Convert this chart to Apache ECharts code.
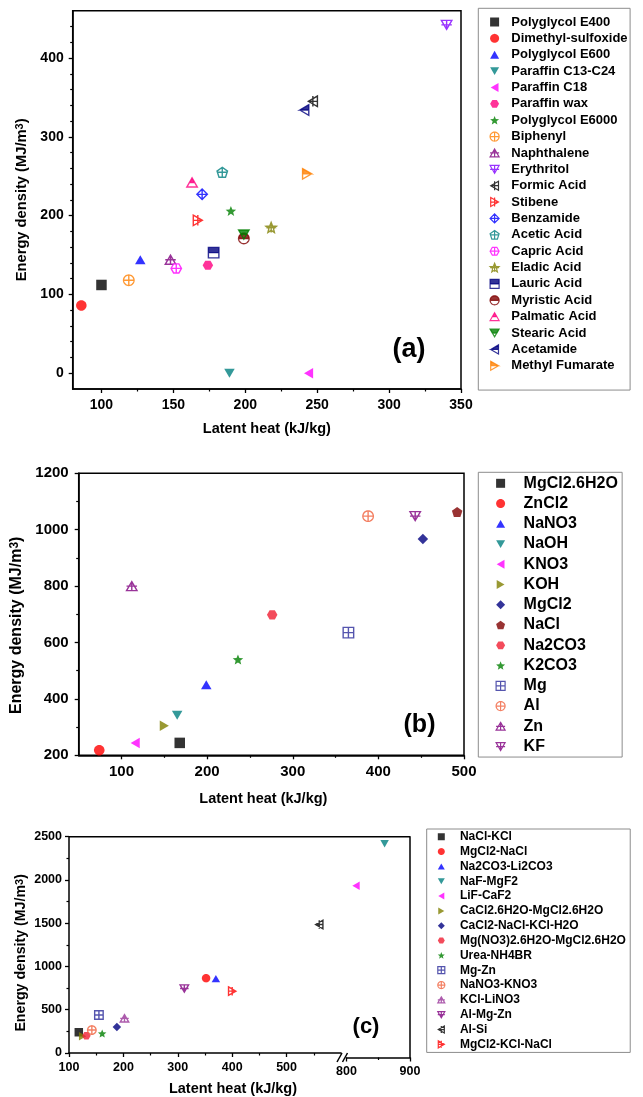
<!DOCTYPE html>
<html lang="en">
<head>
<meta charset="UTF-8">
<title>Energy density vs latent heat</title>
<script src="https://cdn.jsdelivr.net/npm/echarts@6/dist/echarts.min.js"></script>
<style>
    html, body { margin: 0; padding: 0; background-color: #FFFFFF; }
    #main { width: 643px; height: 1097px; }
</style>
</head>
<body>
<div id="main"></div>
<script>
// ---------- data: panel (a) ----------
var namesA = ['Polyglycol E400', 'Dimethyl-sulfoxide', 'Polyglycol E600', 'Paraffin C13-C24', 'Paraffin C18',
    'Paraffin wax', 'Polyglycol E6000', 'Biphenyl', 'Naphthalene', 'Erythritol', 'Formic Acid', 'Stibene',
    'Benzamide', 'Acetic Acid', 'Capric Acid', 'Eladic Acid', 'Lauric Acid', 'Myristic Acid', 'Palmatic Acid',
    'Stearic Acid', 'Acetamide', 'Methyl Fumarate'];
var heatA = [100, 86, 127, 189, 244, 174, 190, 119, 148, 340, 247, 167, 170, 184, 152, 218, 178, 199, 163, 199, 241, 243];
var densA = [112, 86, 144, 0, 0, 137, 206, 118, 144, 442, 345, 194, 227, 255, 133, 185, 153, 171, 242, 176, 334, 253];

// ---------- data: panel (b) ----------
var namesB = ['MgCl2.6H2O', 'ZnCl2', 'NaNO3', 'NaOH', 'KNO3', 'KOH', 'MgCl2', 'NaCl', 'Na2CO3', 'K2CO3',
    'Mg', 'Al', 'Zn', 'KF'];
var heatB = [168, 74, 199, 165, 116, 150, 452, 492, 276, 236, 365, 388, 112, 443];
var densB = [244, 218, 450, 342, 244, 305, 967, 1063, 698, 540, 635, 1048, 800, 1048];

// ---------- data: panel (c) ----------
var namesC = ['NaCl-KCl', 'MgCl2-NaCl', 'Na2CO3-Li2CO3', 'NaF-MgF2', 'LiF-CaF2', 'CaCl2.6H2O-MgCl2.6H2O',
    'CaCl2-NaCl-KCl-H2O', 'Mg(NO3)2.6H2O-MgCl2.6H2O', 'Urea-NH4BR', 'Mg-Zn', 'NaNO3-KNO3', 'KCl-LiNO3',
    'Al-Mg-Zn', 'Al-Si', 'MgCl2-KCl-NaCl'];
var heatC = [118, 352, 370, 860, 815, 125, 188, 132, 161, 155, 142, 202, 312, 560, 400];
var densC = [240, 865, 860, 2420, 1945, 195, 300, 200, 225, 440, 265, 400, 745, 1485, 715];

// ---------- ticks ----------
var xTicksA = [100, 150, 200, 250, 300, 350];
var xMinorA = [125, 175, 225, 275, 325];
var yTicksA = [0, 100, 200, 300, 400];
var yMinorA = [20, 40, 60, 80, 120, 140, 160, 180, 220, 240, 260, 280, 320, 340, 360, 380, 420, 440];
var xTicksB = [100, 200, 300, 400, 500];
var xMinorB = [150, 250, 350, 450];
var yTicksB = [200, 400, 600, 800, 1000, 1200];
var yMinorB = [300, 500, 700, 900, 1100];
var xTicksC1 = [100, 200, 300, 400, 500];
var xMinorC1 = [150, 250, 350, 450, 550];
var xTicksC2 = [800, 900];
var xMinorC2 = [850];
var yTicksC = [0, 500, 1000, 1500, 2000, 2500];
var yMinorC = [250, 750, 1250, 1750, 2250];

// ---------- marker styles ----------
var colorsA = ['#000000', '#ff0000', '#0000ff', '#008080', '#ff00ff', '#ff0080', '#008000', '#ff8000',
    '#800080', '#8000ff', '#000000', '#ff0000', '#0000ff', '#008080', '#ff00ff', '#808000', '#000080',
    '#800000', '#ff0080', '#008000', '#000080', '#ff8000'];
var markersA = ['square:fill', 'circle:fill', 'up:fill', 'down:fill', 'left:fill', 'hexagon:fill', 'star:fill',
    'circle:plus', 'up:plus', 'down:plus', 'left:plus', 'right:plus', 'diamond:plus', 'pentagon:plus',
    'hexagon:plus', 'star:plus', 'square:half', 'circle:half', 'up:half', 'down:half', 'left:half', 'right:half'];
var colorsB = ['#000000', '#ff0000', '#0000ff', '#008080', '#ff00ff', '#808000', '#000080', '#800000',
    '#f01e32', '#008000', '#2a2a9a', '#f0603c', '#800080', '#800080'];
var markersB = ['square:fill', 'circle:fill', 'up:fill', 'down:fill', 'left:fill', 'right:fill', 'diamond:fill',
    'pentagon:fill', 'hexagon:fill', 'star:fill', 'square:plus', 'circle:plus', 'up:plus', 'down:plus'];
var colorsC = ['#000000', '#ff0000', '#0000ff', '#008080', '#ff00ff', '#808000', '#000080', '#f01e32',
    '#008000', '#2a2a9a', '#f0603c', '#993399', '#800080', '#000000', '#ff0000'];
var markersC = ['square:fill', 'circle:fill', 'up:fill', 'down:fill', 'left:fill', 'right:fill', 'diamond:fill',
    'hexagon:fill', 'star:fill', 'square:plus', 'circle:plus', 'up:plus', 'down:plus', 'left:plus', 'right:plus'];

var FONT = '"Liberation Sans", Arial, Helvetica, sans-serif';

// shapes drawn in a 20x20 box, turned into path:// symbols
function ngon(n, r, start) {
    var pts = [];
    for (var i = 0; i < n; i++) {
        var a = start + i * 2 * Math.PI / n;
        pts.push([10 + r * Math.cos(a), 10 + r * Math.sin(a)]);
    }
    return pts;
}
function starPts() {
    var pts = [];
    for (var i = 0; i < 10; i++) {
        var r = i % 2 ? 4.4 : 10;
        var a = -Math.PI / 2 + i * Math.PI / 5;
        pts.push([10 + r * Math.cos(a), 10 + r * Math.sin(a)]);
    }
    return pts;
}
var SHAPES = {
    square: [[0, 0], [20, 0], [20, 20], [0, 20]],
    circle: ngon(36, 10, 0),
    up: [[10, 0], [20, 17.3], [0, 17.3]],
    down: [[0, 0], [20, 0], [10, 17.3]],
    left: [[0, 10], [17.3, 0], [17.3, 20]],
    right: [[0, 0], [17.3, 10], [0, 20]],
    diamond: [[10, 0], [20, 10], [10, 20], [0, 10]],
    pentagon: ngon(5, 10, -Math.PI / 2),
    hexagon: ngon(6, 10, 0),
    star: starPts()
};
function bbox(pts) {
    var b = {x0: 1e9, y0: 1e9, x1: -1e9, y1: -1e9};
    pts.forEach(function (p) {
        b.x0 = Math.min(b.x0, p[0]); b.x1 = Math.max(b.x1, p[0]);
        b.y0 = Math.min(b.y0, p[1]); b.y1 = Math.max(b.y1, p[1]);
    });
    return b;
}
function d(pts, close) {
    return 'M' + pts.map(function (p) { return p[0].toFixed(2) + ',' + p[1].toFixed(2); }).join('L') + (close ? 'Z' : '');
}
function clipTop(pts, c) {
    var out = [];
    for (var i = 0; i < pts.length; i++) {
        var a = pts[i], b = pts[(i + 1) % pts.length];
        var ina = a[1] <= c, inb = b[1] <= c;
        if (ina) out.push(a);
        if (ina !== inb) {
            var t = (c - a[1]) / (b[1] - a[1]);
            out.push([a[0] + t * (b[0] - a[0]), c]);
        }
    }
    return out;
}
function symbolPath(marker) {
    var parts = marker.split(':'), pts = SHAPES[parts[0]], b = bbox(pts);
    var cx = (b.x0 + b.x1) / 2, cy = (b.y0 + b.y1) / 2;
    if (parts[1] === 'plus') {
        return 'path://' + d(pts, true) + d([[cx, b.y0], [cx, b.y1]]) + d([[b.x0, cy], [b.x1, cy]]);
    }
    if (parts[1] === 'half') {
        var loop = pts.concat([pts[0]]);
        var back = loop.slice().reverse().slice(1);
        return 'path://' + d(clipTop(pts, cy), true) + d(loop.concat(back));
    }
    return 'path://' + d(pts, true);
}
function markerStyle(marker, color) {
    var kind = marker.split(':')[1];
    if (kind === 'plus') return {color: '#ffffff', borderColor: color, borderWidth: 1.4};
    if (kind === 'half') return {color: color, borderColor: color, borderWidth: 1.4};
    return {color: color};
}

function makeSeries(names, heat, dens, colors, markers, size, axisFor) {
    return names.map(function (n, i) {
        var ax = axisFor(heat[i]);
        return {
            type: 'scatter', name: n,
            xAxisIndex: ax[0], yAxisIndex: ax[1],
            data: [[heat[i], dens[i]]],
            symbol: symbolPath(markers[i]),
            symbolSize: size, symbolKeepAspect: true,
            itemStyle: markerStyle(markers[i], colors[i]),
            z: 3
        };
    });
}

// axes
function plain(v) { return String(v); }
function mainAxis(grid, pos, min, max, ticks, fontSize, margin, extra) {
    var o = {
        type: 'value', gridIndex: grid, position: pos, min: min, max: max,
        axisLine: {show: true, onZero: false, lineStyle: {color: '#000', width: 1.5}},
        axisTick: {show: true, inside: false, length: 4, customValues: ticks, lineStyle: {color: '#000', width: 1.3}},
        axisLabel: {customValues: ticks, formatter: plain, color: '#000', fontSize: fontSize, fontWeight: 'bold', fontFamily: FONT, margin: margin},
        splitLine: {show: false}
    };
    for (var k in extra) o[k] = extra[k];
    return o;
}
function minorAxis(grid, pos, min, max, ticks) {
    return {
        type: 'value', gridIndex: grid, position: pos, min: min, max: max,
        axisLine: {show: false, onZero: false},
        axisLabel: {show: false}, splitLine: {show: false},
        axisTick: {show: true, inside: false, length: 2.5, customValues: ticks, lineStyle: {color: '#000', width: 1.2}}
    };
}
function nameStyle(size, pad) {
    return {
        fontSize: size, fontWeight: 'bold', fontFamily: FONT, color: '#000', padding: pad,
        rich: {sup: {fontSize: Math.round(size * 0.78), fontWeight: 'bold', fontFamily: FONT, color: '#000', verticalAlign: 'top'}}
    };
}
var yName = 'Energy density (MJ/m{sup|3})';
var xName = 'Latent heat (kJ/kg)';

var xAxes = [
    mainAxis(0, 'bottom', 80, 350, xTicksA, 14, 9, {name: xName, nameLocation: 'middle', nameGap: 32, nameTextStyle: nameStyle(14.5, [0, 0, 0, 0])}),
    minorAxis(0, 'bottom', 80, 350, xMinorA),
    mainAxis(1, 'bottom', 50, 500, xTicksB, 15, 9, {name: xName, nameLocation: 'middle', nameGap: 36, nameTextStyle: nameStyle(14.5, [0, 16, 0, 0])}),
    minorAxis(1, 'bottom', 50, 500, xMinorB),
    mainAxis(2, 'bottom', 100, 600, xTicksC1, 12.5, 8, {name: xName, nameLocation: 'middle', nameGap: 28, nameTextStyle: nameStyle(14.5, [0, 0, 0, 56])}),
    minorAxis(2, 'bottom', 100, 600, xMinorC1),
    mainAxis(3, 'bottom', 800, 900, xTicksC2, 12.5, 8, {}),
    minorAxis(3, 'bottom', 800, 900, xMinorC2)
];
var yAxes = [
    mainAxis(0, 'left', -20, 460, yTicksA, 14, 9, {name: yName, nameLocation: 'middle', nameGap: 33, nameTextStyle: nameStyle(14.7, [0, 0, 0, 0])}),
    minorAxis(0, 'left', -20, 460, yMinorA),
    mainAxis(1, 'left', 200, 1200, yTicksB, 15, 10, {name: yName, nameLocation: 'middle', nameGap: 47, nameTextStyle: nameStyle(16, [0, 22, 0, 0])}),
    minorAxis(1, 'left', 200, 1200, yMinorB),
    mainAxis(2, 'left', 0, 2500, yTicksC, 12.5, 7, {name: yName, nameLocation: 'middle', nameGap: 41, nameTextStyle: nameStyle(14.2, [0, 16, 0, 0])}),
    minorAxis(2, 'left', 0, 2500, yMinorC),
    {
        type: 'value', gridIndex: 3, position: 'right', min: 0, max: 2500,
        axisLine: {show: true, onZero: false, lineStyle: {color: '#000', width: 1.5}},
        axisTick: {show: false}, axisLabel: {show: false}, splitLine: {show: false}
    }
];

var series = []
    .concat(makeSeries(namesA, heatA, densA, colorsA, markersA, 10.5, function () { return [0, 0]; }))
    .concat(makeSeries(namesB, heatB, densB, colorsB, markersB, 10.5, function () { return [2, 2]; }))
    .concat(makeSeries(namesC, heatC, densC, colorsC, markersC, 8.5, function (h) { return h > 700 ? [6, 6] : [4, 4]; }));

function legend(names, left, top, padding, icon, gap, fontSize, lineHeight, textPad) {
    return {
        orient: 'vertical', left: left, top: top, padding: padding,
        itemWidth: icon, itemHeight: icon, itemGap: gap,
        data: names, selectedMode: false,
        borderColor: '#8c8c8c', borderWidth: 1, backgroundColor: '#fff',
        itemStyle: {borderWidth: 1.2},
        textStyle: {fontFamily: FONT, fontSize: fontSize, fontWeight: 'bold', color: '#000', lineHeight: lineHeight, padding: textPad}
    };
}

function label(text, x, y, size) {
    return {
        type: 'text', x: x, y: y, z: 10,
        style: {text: text, fill: '#000', font: 'bold ' + size + 'px ' + FONT,
            align: 'center', verticalAlign: 'middle', textAlign: 'center', textVerticalAlign: 'middle'}
    };
}
function seg(x1, y1, x2, y2) {
    return {type: 'line', z: 10, shape: {x1: x1, y1: y1, x2: x2, y2: y2}, style: {stroke: '#000', lineWidth: 1.5}};
}

var option = {
    backgroundColor: '#FFFFFF',
    animation: false,
    grid: [
        {left: 72.7, top: 10.7, width: 388.3, height: 378.3, show: true, borderColor: '#000', borderWidth: 1.5, backgroundColor: 'transparent'},
        {left: 78.7, top: 473.3, width: 385.3, height: 282, show: true, borderColor: '#000', borderWidth: 1.5, backgroundColor: 'transparent'},
        {left: 69, top: 836.7, width: 272, height: 220.8},
        {left: 346.5, top: 836.7, width: 63.5, height: 220.8}
    ],
    xAxis: xAxes,
    yAxis: yAxes,
    legend: [
        legend(namesA, 478.3, 8.3, [6.2, 2.5, 16.8, 11.2], 9, 1.37, 13, 15, [0, 0, 0, 7.2]),
        legend(namesB, 478.3, 472.3, [2, 4.3, 1.5, 17.2], 9, 2.25, 16, 18, [0, 0, 0, 13.5]),
        legend(namesC, 426.7, 829, [1, 4.3, 1.3, 10.5], 7, 1.33, 12, 13.5, [0, 0, 0, 10.1])
    ],
    graphic: [
        label('(a)', 409, 350, 27),
        label('(b)', 419.5, 725, 25),
        label('(c)', 366, 1027, 22),
        // frame top of panel (c) and the axis break marks
        seg(69, 836.7, 410, 836.7),
        seg(337, 1062, 342, 1053),
        seg(342.5, 1062, 347.5, 1053)
    ],
    series: series
};

var chart = echarts.init(document.getElementById('main'));
chart.setOption(option);
</script>
</body>
</html>
